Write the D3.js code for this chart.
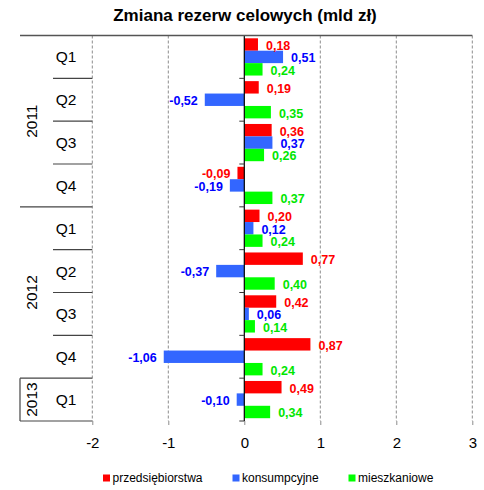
<!DOCTYPE html>
<html>
<head>
<meta charset="utf-8">
<script src="https://cdn.jsdelivr.net/npm/d3@7"></script>
<style>
  html, body { margin: 0; padding: 0; background: #fff; }
  svg { display: block; font-family: "Liberation Sans", Arial, sans-serif; }
</style>
</head>
<body>
<svg id="chart" width="484" height="490"></svg>
<script>
// Quarterly change in targeted reserves, by loan type (bn PLN)
const quarters     = ["Q1", "Q2", "Q3", "Q4", "Q1", "Q2", "Q3", "Q4", "Q1"];
const quarterYears = ["2011", "2011", "2011", "2011", "2012", "2012", "2012", "2012", "2013"];
const seriesNames  = ["przedsiębiorstwa", "konsumpcyjne", "mieszkaniowe"];
const przedsiebiorstwa = [0.18, 0.19, 0.36, -0.09, 0.20, 0.77, 0.42, 0.87, 0.49];
const konsumpcyjne     = [0.51, -0.52, 0.37, -0.19, 0.12, -0.37, 0.06, -1.06, -0.10];
const mieszkaniowe     = [0.24, 0.35, 0.26, 0.37, 0.24, 0.40, 0.14, 0.24, 0.34];
const xTicks = [-2, -1, 0, 1, 2, 3];

const barColors  = ["#ff0000", "#3366ff", "#00ff00"];
const textColors = ["#ff0000", "#0000ff", "#00e600"];

const svg = d3.select("#chart");
const pl = d3.formatLocale({ decimal: ",", thousands: " ", grouping: [3], currency: ["", " zł"], minus: "-" });
const fmtLabel = pl.format(".2f");
const fmtTick = pl.format("d");

const plotTop = 35.5, plotBottom = 421;
const x = d3.scaleLinear().domain([-2, 3]).range([92.3, 472.3]);
const y = d3.scaleBand().domain(d3.range(quarters.length)).range([plotTop, plotBottom]);
const sub = d3.scaleBand().domain(d3.range(seriesNames.length)).range([2.8, y.bandwidth() - 2.8]);

const seriesValues = [przedsiebiorstwa, konsumpcyjne, mieszkaniowe];
const rows = [];
quarters.forEach((q, i) => {
  seriesValues.forEach((vals, s) => rows.push({ i, s, v: vals[i] }));
});

// Title
svg.append("text")
  .attr("x", 245).attr("y", 21)
  .attr("text-anchor", "middle")
  .attr("font-size", 17).attr("font-weight", "bold")
  .attr("fill", "#000")
  .text("Zmiana rezerw celowych (mld zł)");

// Dashed vertical gridlines
svg.append("g")
  .selectAll("line")
  .data(xTicks.filter(t => t !== 0))
  .join("line")
  .attr("x1", d => x(d)).attr("x2", d => x(d))
  .attr("y1", plotTop).attr("y2", plotBottom)
  .attr("stroke", "#8c8c8c").attr("stroke-width", 1)
  .attr("stroke-dasharray", "3,2");

// Value axis: ticks and labels below the plot
const xAxis = d3.axisBottom(x).tickValues(xTicks).tickSize(4).tickPadding(12).tickFormat(fmtTick);
const gx = svg.append("g").attr("transform", `translate(0,${plotBottom})`).call(xAxis);
gx.select(".domain").remove();
gx.selectAll(".tick line").attr("stroke", "#8c8c8c");
gx.selectAll(".tick text")
  .attr("font-size", 15).attr("font-family", "Liberation Sans, Arial, sans-serif")
  .attr("fill", "#000");

// Bars
svg.append("g")
  .selectAll("rect")
  .data(rows)
  .join("rect")
  .attr("x", d => x(Math.min(0, d.v)))
  .attr("width", d => Math.abs(x(d.v) - x(0)))
  .attr("y", d => y(d.i) + sub(d.s))
  .attr("height", sub.bandwidth())
  .attr("fill", d => barColors[d.s]);

// Value labels
svg.append("g")
  .selectAll("text")
  .data(rows)
  .join("text")
  .attr("x", d => d.v >= 0 ? x(d.v) + 8 : x(d.v) - 7)
  .attr("y", d => y(d.i) + sub(d.s) + sub.bandwidth() / 2 + 1)
  .attr("dy", "0.35em")
  .attr("text-anchor", d => d.v >= 0 ? "start" : "end")
  .attr("font-size", 12.5).attr("font-weight", "bold")
  .attr("fill", d => textColors[d.s])
  .text(d => fmtLabel(d.v));

// Zero axis with small ticks at category boundaries
svg.append("line")
  .attr("x1", x(0)).attr("x2", x(0))
  .attr("y1", plotTop).attr("y2", plotBottom)
  .attr("stroke", "#000").attr("stroke-width", 1.2);
svg.append("g")
  .selectAll("line")
  .data(d3.range(quarters.length + 1))
  .join("line")
  .attr("x1", x(0) - 5).attr("x2", x(0))
  .attr("y1", i => i < quarters.length ? y(i) : plotBottom)
  .attr("y2", i => i < quarters.length ? y(i) : plotBottom)
  .attr("stroke", "#333");

// Top border line
svg.append("line")
  .attr("x1", 20).attr("x2", x(3))
  .attr("y1", plotTop).attr("y2", plotTop)
  .attr("stroke", "#555").attr("stroke-width", 1.5);

// Category axis: quarter and year separators
const boundaries = d3.range(1, quarters.length + 1).map(i => ({
  y: i < quarters.length ? y(i) : plotBottom,
  yearBreak: i === quarters.length || quarterYears[i] !== quarterYears[i - 1]
}));
svg.append("g")
  .selectAll("line")
  .data(boundaries)
  .join("line")
  .attr("x1", d => d.yearBreak ? 20 : 53).attr("x2", x(-2))
  .attr("y1", d => d.y).attr("y2", d => d.y)
  .attr("stroke", "#444").attr("stroke-width", 1.2);

// Quarter labels
svg.append("g")
  .selectAll("text")
  .data(quarters)
  .join("text")
  .attr("x", 66)
  .attr("y", (d, i) => y(i) + y.bandwidth() / 2)
  .attr("dy", "0.36em")
  .attr("text-anchor", "middle")
  .attr("font-size", 15.5).attr("fill", "#000")
  .text(d => d);

// Year labels, rotated, centred on their quarter span
const yearGroups = d3.groups(quarters.map((q, i) => ({ i, year: quarterYears[i] })), d => d.year);
svg.append("g")
  .selectAll("text")
  .data(yearGroups)
  .join("text")
  .attr("transform", ([yr, items]) => {
    const cy = (y(items[0].i) + y(items[items.length - 1].i) + y.bandwidth()) / 2;
    return `translate(31,${cy}) rotate(-90)`;
  })
  .attr("dy", "0.36em")
  .attr("text-anchor", "middle")
  .attr("font-size", 15.5).attr("fill", "#000")
  .text(([yr]) => yr);

// Left edge of the last year cell
const lastYear = yearGroups[yearGroups.length - 1][1];
svg.append("line")
  .attr("x1", 20).attr("x2", 20)
  .attr("y1", y(lastYear[0].i)).attr("y2", plotBottom)
  .attr("stroke", "#444").attr("stroke-width", 1.2);

// Legend
const legendX = [103, 232.5, 348.5];
const lg = svg.append("g").selectAll("g")
  .data(seriesNames)
  .join("g")
  .attr("transform", (d, i) => `translate(${legendX[i]},478)`);
lg.append("rect")
  .attr("x", 0).attr("y", -3.5).attr("width", 7).attr("height", 7)
  .attr("fill", (d, i) => barColors[i]);
lg.append("text")
  .attr("x", 9.5).attr("dy", "0.35em")
  .attr("font-size", 12).attr("fill", "#000")
  .text(d => d);
</script>
</body>
</html>
